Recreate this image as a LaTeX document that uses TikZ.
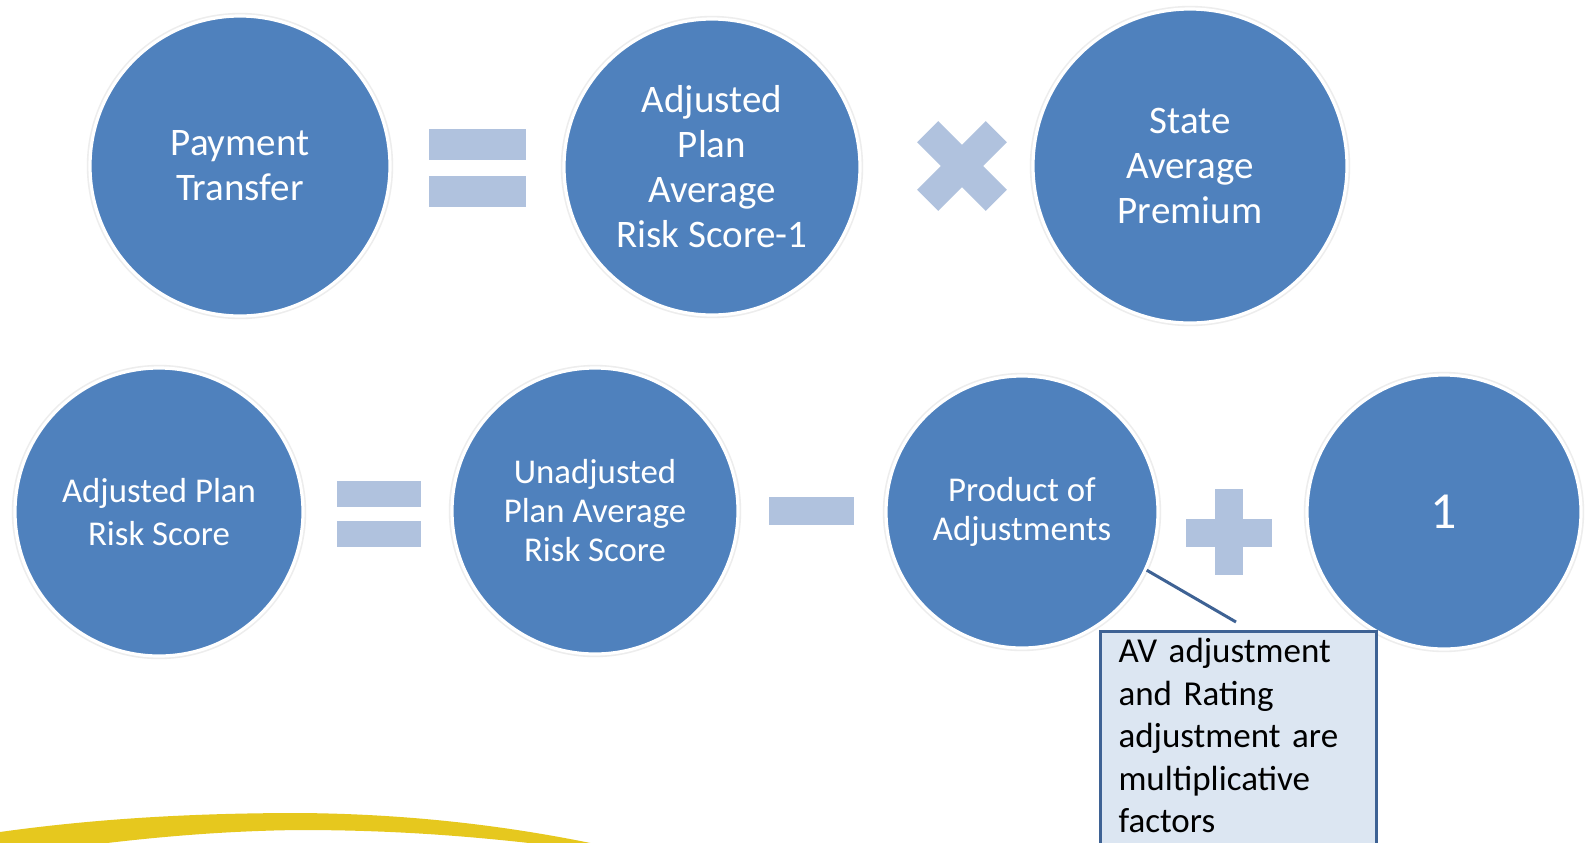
\documentclass[tikz,border=0pt]{standalone}
\usepackage{fontspec}
\setmainfont{Carlito}
\definecolor{cblue}{RGB}{79,129,189}
\definecolor{oplight}{RGB}{176,194,222}
\definecolor{boxfill}{RGB}{220,230,242}
\definecolor{boxline}{RGB}{62,98,148}
\definecolor{swoosh}{RGB}{230,200,30}
\begin{document}
\begin{tikzpicture}[x=0.5pt,y=-0.5pt,
  circ/.style={circle, fill=cblue, text=white, align=center, inner sep=0pt,
    preaction={draw=black!7, line width=3.2pt}, draw=white, line width=1.6pt},
  toptext/.style={font=\fontsize{19.5}{22.5}\selectfont},
  bottext/.style={font=\fontsize{17.4}{19.5}\selectfont},
  opshape/.style={fill=oplight},
  notebox/.style={draw=boxline, fill=boxfill, line width=1.5pt, anchor=north west,
    text width=120pt, align=left, inner xsep=9pt, inner ysep=3.5pt, text depth=100pt,
    font=\fontsize{17.5}{21.25}\selectfont, text=black}]
\useasboundingbox (0,0) rectangle (1585,842);
\fill[white] (0,0) rectangle (1585,842);

% yellow swoosh
\fill[swoosh] (0,832) .. controls (100,818) and (200,813) .. (300,813)
  .. controls (420,814) and (520,828) .. (605,846) -- (555,846)
  .. controls (480,837) and (400,830) .. (300,830)
  .. controls (200,831) and (100,842) .. (0,858) -- cycle;

% top row
\node[circ,toptext,minimum size=150pt] (pt) at (240,166) {Payment\\Transfer};
\node[circ,toptext,minimum size=148pt] (apars) at (712,167) {Adjusted\\Plan\\Average\\Risk Score-1};
\node[circ,toptext,minimum size=157pt] (sap) at (1190,166) {State\\Average\\Premium};

% bottom row
\node[circ,font=\fontsize{17.4}{21.7}\selectfont,minimum size=144pt] (aprs) at (159,512) {Adjusted Plan\\Risk Score};
\node[circ,bottext,minimum size=143pt] (uprs) at (595,511) {Unadjusted\\Plan Average\\Risk Score};
\node[circ,bottext,minimum size=136pt] (poa) at (1022,512) {Product of\\Adjustments};
\node[circ,font=\fontsize{26}{30}\selectfont,minimum size=137pt] (one) at (1444,512) {1};

% operators
\fill[opshape] (429,129) rectangle (526,160);
\fill[opshape] (429,176) rectangle (526,207);
\begin{scope}[shift={(962,166)}]
  \fill[opshape,rotate=45] (-48.5,-15) rectangle (48.5,15);
  \fill[opshape,rotate=-45] (-48.5,-15) rectangle (48.5,15);
\end{scope}
\fill[opshape] (337,481) rectangle (421,507);
\fill[opshape] (337,521) rectangle (421,547);
\fill[opshape] (769,497) rectangle (854,525);
\fill[opshape] (1186,518.5) rectangle (1272,546.5);
\fill[opshape] (1215,489) rectangle (1243,575);

% callout
\node[notebox] (note) at (1099,630) {AV adjustment\\and Rating\\adjustment are\\multiplicative\\factors};
\coordinate (tip) at (1236,622);
\draw[boxline, line width=1.5pt] (poa.-25) -- (tip);
\end{tikzpicture}
\end{document}
